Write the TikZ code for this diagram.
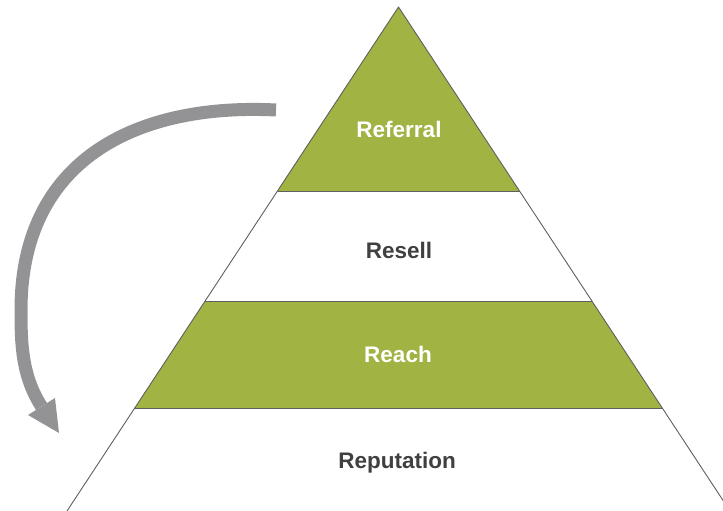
\documentclass[tikz,border=0pt]{standalone}
\usepackage{fontspec}
\setmainfont{Liberation Sans}
\definecolor{pgreen}{RGB}{160,179,67}
\definecolor{pline}{RGB}{95,95,95}
\definecolor{ptext}{RGB}{64,64,64}
\definecolor{parrow}{RGB}{147,147,149}
\begin{document}
\begin{tikzpicture}[x=1pt,y=-1pt,
  lbl/.style={font=\fontsize{22.5}{27}\selectfont\bfseries, anchor=base, inner sep=0pt},
  lblw/.style={lbl, text=white},
  lbld/.style={lbl, text=ptext},
  edge/.style={draw=pline, line width=0.9pt, line join=round}]
\useasboundingbox (0,0) rectangle (723,511);
\clip (0,0) rectangle (723,511);
% pyramid corners
\coordinate (A) at (398.5,7);
\coordinate (L1) at (277.5,191); \coordinate (R1) at (519.5,191);
\coordinate (L2) at (205.1,301); \coordinate (R2) at (591.9,301);
\coordinate (L3) at (134.7,408); \coordinate (R3) at (662.3,408);
\coordinate (L4) at (67,511);   \coordinate (R4) at (730,511);
% bands
\fill[pgreen] (A) -- (R1) -- (L1) -- cycle;
\fill[pgreen] (L2) -- (R2) -- (R3) -- (L3) -- cycle;
\draw[edge] (L4) -- (A) -- (R4);
\draw[edge] (L1) -- (R1);
\draw[edge] (L2) -- (R2);
\draw[edge] (L3) -- (R3);
% labels
\node[lblw] (referral) at (399,137) {Referral};
\node[lbld] (resell) at (399,258) {Resell};
\node[lblw] (reach) at (398,362) {Reach};
\node[lbld] (reputation) at (397,468) {Reputation};
% curved arrow
\coordinate (s0) at (276,110);
\coordinate (s1) at (21,310);
\coordinate (s2) at (41.5,406.5);
\coordinate (tip) at (59,433);
\coordinate (b1) at (28,415);
\coordinate (b2) at (55,398);
\draw[parrow, line width=13pt] (s0) .. controls (136,103) and (21,160) .. (s1)
  .. controls (21,345) and (22,376) .. (s2);
\fill[parrow] (b1) -- (tip) -- (b2) -- cycle;
\end{tikzpicture}
\end{document}
